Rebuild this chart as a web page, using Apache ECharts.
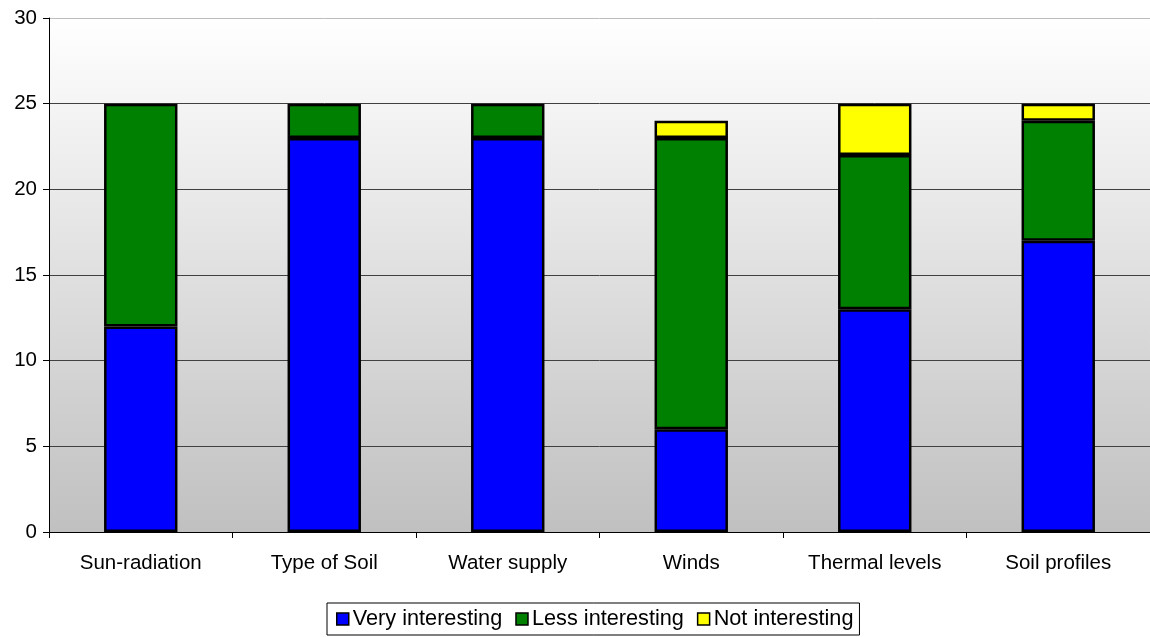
<!DOCTYPE html>
<html>
<head>
<meta charset="utf-8">
<script src="https://cdn.jsdelivr.net/npm/echarts@6/dist/echarts.min.js"></script>
<style>
  html, body { margin: 0; padding: 0; background: #fff; }
  #chart { width: 1150px; height: 637px; }
</style>
</head>
<body>
<div id="chart"></div>
<script>
// Survey topics and how many respondents rated each one
const categories = ['Sun-radiation', 'Type of Soil', 'Water supply', 'Winds', 'Thermal levels', 'Soil profiles'];
const veryInteresting = [12, 23, 23, 6, 13, 17];
const lessInteresting = [13, 2, 2, 17, 9, 7];
const notInteresting = [0, 0, 0, 1, 3, 1];
const yTicks = [0, 5, 10, 15, 20, 25, 30];

const font = 'Liberation Sans, Arial, sans-serif';
const chart = echarts.init(document.getElementById('chart'));

function barSeries(name, data, color) {
  return {
    name: name,
    type: 'bar',
    stack: 'total',
    // empty segments are left out so they draw no outline
    data: data.map(v => (v === 0 ? '-' : v)),
    barWidth: '40%',
    itemStyle: { color: color, borderColor: '#000', borderWidth: 2.5 }
  };
}

chart.setOption({
  animation: false,
  textStyle: { fontFamily: font },
  grid: {
    left: 49, right: 0, top: 18, bottom: 105,
    show: true,
    borderWidth: 0,
    backgroundColor: new echarts.graphic.LinearGradient(0, 0, 0, 1, [
      { offset: 0, color: '#ffffff' },
      { offset: 1, color: '#c0c0c0' }
    ])
  },
  xAxis: {
    type: 'category',
    data: categories,
    axisLine: { lineStyle: { color: '#000', width: 1 } },
    axisTick: { show: true, length: 6, lineStyle: { color: '#000' } },
    axisLabel: { color: '#000', fontSize: 20.5, fontFamily: font, margin: 21 }
  },
  yAxis: {
    type: 'value',
    min: yTicks[0],
    max: yTicks[yTicks.length - 1],
    interval: 5,
    axisLine: { show: true, lineStyle: { color: '#000', width: 1 } },
    axisTick: { show: true, length: 6, lineStyle: { color: '#000' } },
    axisLabel: { color: '#000', fontSize: 20.5, fontFamily: font, margin: 12 },
    splitLine: {
      show: true,
      lineStyle: {
        color: ['#000', '#404040', '#404040', '#404040', '#404040', '#404040', '#bdbdbd'],
        width: 1
      }
    }
  },
  legend: {
    left: 327,
    top: 603,
    orient: 'horizontal',
    borderColor: '#000',
    borderWidth: 1,
    padding: [5, 6, 5, 9],
    itemWidth: 12,
    itemHeight: 12,
    itemGap: 13,
    icon: 'rect',
    textStyle: { color: '#000', fontSize: 21.7, fontFamily: font, padding: [0, 0, 0, -1] },
    itemStyle: { borderColor: '#000', borderWidth: 1.5 },
    data: ['Very interesting', 'Less interesting', 'Not interesting']
  },
  series: [
    barSeries('Very interesting', veryInteresting, '#0000ff'),
    barSeries('Less interesting', lessInteresting, '#008000'),
    barSeries('Not interesting', notInteresting, '#ffff00')
  ]
});
</script>
</body>
</html>
